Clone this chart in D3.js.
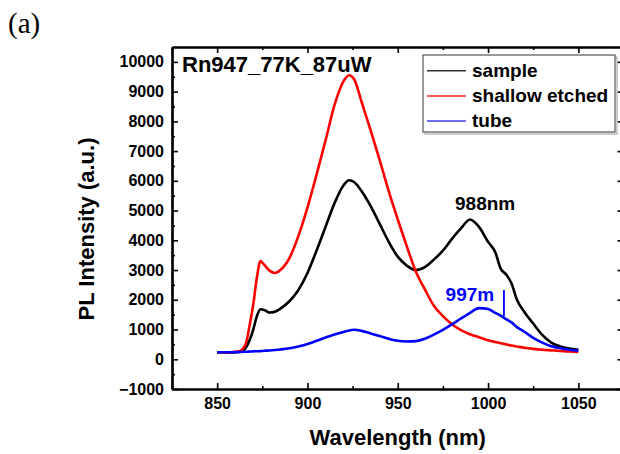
<!DOCTYPE html>
<html>
<head>
<meta charset="utf-8">
<script src="https://cdn.jsdelivr.net/npm/d3@7"></script>
<style>
  body { margin: 0; background: #fff; }
  svg { display: block; font-family: "Liberation Sans", Arial, sans-serif; }
</style>
</head>
<body>
<div id="chart"></div>
<script>
// wavelength grid (nm) shared by all three spectra
var wavelengths = [850, 855, 860, 863, 866, 868, 870, 872, 874, 876, 879, 882, 885, 890, 895,
  900, 905, 910, 915, 920, 923, 926, 930, 935, 940, 945, 950, 955, 960, 965, 970, 975, 980,
  985, 990, 995, 1000, 1004, 1007, 1010, 1013, 1016, 1020, 1025, 1030, 1035, 1040, 1045, 1050];

// PL intensity (a.u.)
var sample = [230, 232, 240, 250, 400, 650, 1000, 1450, 1680, 1660, 1570, 1600, 1700, 1950, 2330,
  2900, 3650, 4450, 5250, 5850, 6020, 5950, 5650, 5150, 4550, 3950, 3450, 3150, 3000, 3100, 3350, 3650, 4050,
  4400, 4700, 4450, 3950, 3600, 3050, 2850, 2550, 2000, 1600, 1200, 820, 560, 430, 360, 320];

var shallowEtched = [230, 232, 245, 290, 550, 1150, 1850, 2750, 3300, 3180, 2980, 2900, 3000, 3400, 4150,
  5100, 6200, 7350, 8550, 9350, 9550, 9400, 8650, 7700, 6700, 5650, 4700, 3800, 2950, 2350, 1800, 1450, 1180,
  980, 840, 740, 640, 580, 540, 500, 460, 430, 390, 350, 320, 300, 280, 260, 250];

var tube = [230, 235, 240, 245, 255, 260, 265, 270, 275, 285, 295, 310, 330, 370, 430,
  510, 620, 730, 830, 920, 970, 990, 955, 870, 780, 690, 620, 595, 610, 690, 830, 990, 1170,
  1370, 1560, 1720, 1690, 1560, 1470, 1350, 1240, 1080, 930, 720, 560, 440, 370, 320, 290];

var seriesNames = ["sample", "shallow etched", "tube"];
var seriesColors = ["#000000", "#ff0000", "#0000ff"];
var legendColors = ["#333333", "#ff2020", "#4040ff"];

var xMajor = [850, 900, 950, 1000, 1050];
var xMinor = [825, 875, 925, 975, 1025, 1075];
var yMajor = [-1000, 0, 1000, 2000, 3000, 4000, 5000, 6000, 7000, 8000, 9000, 10000];
var yMinor = [-500, 500, 1500, 2500, 3500, 4500, 5500, 6500, 7500, 8500, 9500];

var width = 620, height = 454;
var plotLeft = 172, plotTop = 47, plotRight = 623.5, plotBottom = 389;

var svg = d3.select("#chart").append("svg")
  .attr("width", width)
  .attr("height", height);

var x = d3.scaleLinear().domain([825, 1075]).range([plotLeft, plotRight]);
var y = d3.scaleLinear().domain([-1000, 10500]).range([plotBottom, plotTop]);

// panel letter
svg.append("text")
  .attr("x", 8).attr("y", 33)
  .style("font-family", "'Liberation Serif', 'Times New Roman', serif")
  .style("font-size", "29px")
  .text("(a)");

// curves
var allSeries = [sample, shallowEtched, tube];
var line = d3.line()
  .x(function(d, i){ return x(wavelengths[i]); })
  .y(function(d){ return y(d); })
  .curve(d3.curveMonotoneX);

allSeries.forEach(function(s, k){
  svg.append("path")
    .datum(s)
    .attr("fill", "none")
    .attr("stroke", seriesColors[k])
    .attr("stroke-width", 2.6)
    .attr("stroke-linejoin", "round")
    .attr("d", line);
});

// axes, ticks inside
function styleAxis(g){
  g.select(".domain").attr("stroke-width", 2.2);
  g.selectAll(".tick line").attr("stroke-width", 1.6);
  g.selectAll("text")
    .style("font-family", "'Liberation Sans', Arial, sans-serif")
    .style("font-weight", "bold")
    .style("font-size", "16px")
    .attr("fill", "#000");
}

svg.append("g")
  .attr("transform", "translate(0," + plotBottom + ")")
  .call(d3.axisBottom(x).tickValues(xMajor).tickFormat(d3.format("d"))
    .tickSizeInner(-6).tickSizeOuter(0).tickPadding(9))
  .call(styleAxis);
svg.append("g")
  .attr("transform", "translate(0," + plotBottom + ")")
  .call(d3.axisBottom(x).tickValues(xMinor).tickFormat("").tickSizeInner(-3).tickSizeOuter(0))
  .call(styleAxis);

svg.append("g")
  .attr("transform", "translate(" + plotLeft + ",0)")
  .call(d3.axisLeft(y).tickValues(yMajor).tickFormat(d3.format("d"))
    .tickSizeInner(-6).tickSizeOuter(0).tickPadding(8))
  .call(styleAxis);
svg.append("g")
  .attr("transform", "translate(" + plotLeft + ",0)")
  .call(d3.axisLeft(y).tickValues(yMinor).tickFormat("").tickSizeInner(-3).tickSizeOuter(0))
  .call(styleAxis);

svg.append("g")
  .attr("transform", "translate(0," + plotTop + ")")
  .call(d3.axisTop(x).tickValues(xMajor).tickFormat("").tickSizeInner(-6).tickSizeOuter(0))
  .call(styleAxis);
svg.append("g")
  .attr("transform", "translate(0," + plotTop + ")")
  .call(d3.axisTop(x).tickValues(xMinor).tickFormat("").tickSizeInner(-3).tickSizeOuter(0))
  .call(styleAxis);

svg.append("g")
  .attr("transform", "translate(" + plotRight + ",0)")
  .call(d3.axisRight(y).tickValues(yMajor).tickFormat("").tickSizeInner(-6).tickSizeOuter(0))
  .call(styleAxis);

// axis titles
svg.append("text")
  .attr("x", (x(850) + x(1050)) / 2).attr("y", 445)
  .attr("text-anchor", "middle")
  .style("font-weight", "bold").style("font-size", "22px")
  .text("Wavelength (nm)");

svg.append("text")
  .attr("transform", "translate(94,229) rotate(-90)")
  .attr("text-anchor", "middle")
  .style("font-weight", "bold").style("font-size", "22px")
  .text("PL Intensity (a.u.)");

// sample title
svg.append("text")
  .attr("x", 182).attr("y", 72)
  .style("font-weight", "bold").style("font-size", "22px")
  .text("Rn947_77K_87uW");

// peak labels
svg.append("text")
  .attr("x", x(981.7)).attr("y", y(5010))
  .style("font-weight", "bold").style("font-size", "19px")
  .text("988nm");

svg.append("text")
  .attr("x", x(976.5)).attr("y", y(1970))
  .attr("fill", "#0000ff")
  .style("font-weight", "bold").style("font-size", "19px")
  .text("997m");

svg.append("line")
  .attr("x1", x(1008.8)).attr("x2", x(1008.8))
  .attr("y1", y(2330)).attr("y2", y(1450))
  .attr("stroke", "#0000ff").attr("stroke-width", 1.8);

// legend
var legend = svg.append("g");
legend.append("rect")
  .attr("x", 425).attr("y", 57).attr("width", 192).attr("height", 77)
  .attr("fill", "none").attr("stroke", "#aaa").attr("stroke-width", 1.2);
legend.append("rect")
  .attr("x", 423).attr("y", 55).attr("width", 192).attr("height", 77)
  .attr("fill", "#fff").attr("stroke", "#555").attr("stroke-width", 1.2);

seriesNames.forEach(function(name, k){
  var ly = 70.7 + k * 25.2;
  legend.append("line")
    .attr("x1", 427).attr("x2", 466)
    .attr("y1", ly).attr("y2", ly)
    .attr("stroke", legendColors[k]).attr("stroke-width", 1.5);
  legend.append("text")
    .attr("x", 472).attr("y", ly + 6)
    .style("font-weight", "bold").style("font-size", "19px")
    .text(name);
});
</script>
</body>
</html>
